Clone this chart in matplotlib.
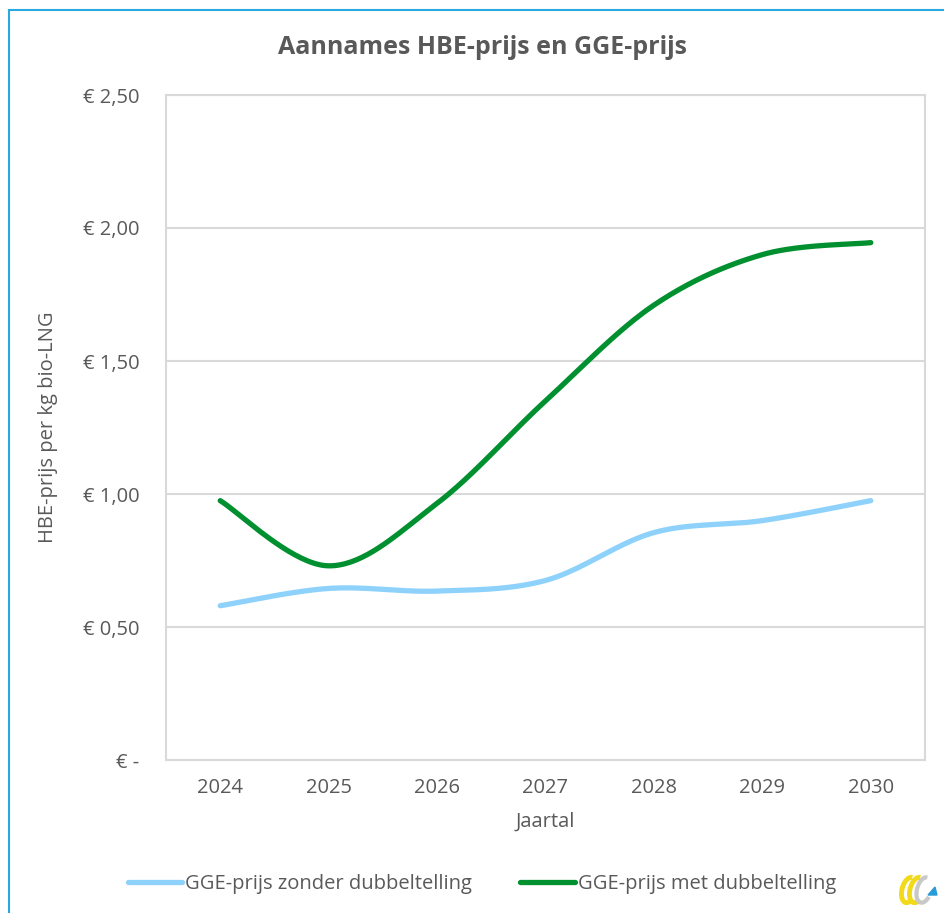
import numpy as np
import matplotlib.pyplot as plt
from matplotlib.patches import Rectangle, Arc, Polygon

years = ["2024", "2025", "2026", "2027", "2028", "2029", "2030"]
gge_zonder = [0.58, 0.645, 0.635, 0.675, 0.855, 0.90, 0.975]
gge_met = [0.975, 0.73, 0.965, 1.35, 1.71, 1.90, 1.945]
yticks = [0, 0.5, 1.0, 1.5, 2.0, 2.5]
ytick_labels = ["€ -", "€ 0,50", "€ 1,00", "€ 1,50", "€ 2,00", "€ 2,50"]

TEXT = "#595959"
FS = 14.5
plt.rcParams['font.family'] = ['Open Sans', 'DejaVu Sans']


def excel_smooth(y, n=40):
    """Bezier smoothing like Excel's 'smoothed line' option."""
    x = np.arange(len(y), dtype=float)
    pts = np.column_stack([x, np.asarray(y, dtype=float)])
    out = []
    t = np.linspace(0, 1, n)[:, None]
    for i in range(len(pts) - 1):
        p0 = pts[i]
        p3 = pts[i + 1]
        prev = pts[i - 1] if i > 0 else pts[i]
        nxt = pts[i + 2] if i + 2 < len(pts) else pts[i + 1]
        p1 = p0 + (p3 - prev) / 6
        p2 = p3 - (nxt - p0) / 6
        seg = ((1 - t) ** 3) * p0 + 3 * ((1 - t) ** 2) * t * p1 + 3 * (1 - t) * t ** 2 * p2 + t ** 3 * p3
        out.append(seg if i == 0 else seg[1:])
    seg = np.vstack(out)
    return seg[:, 0], seg[:, 1]


fig = plt.figure(figsize=(9.45, 9.13), dpi=100)
ax = fig.add_axes([166 / 945, 1 - 760 / 913, 759 / 945, 665 / 913])

xs, ys = excel_smooth(gge_zonder)
ax.plot(xs, ys, color="#8ED2FC", lw=3.8, solid_capstyle="round", label="GGE-prijs zonder dubbeltelling", zorder=3)
xs, ys = excel_smooth(gge_met)
ax.plot(xs, ys, color="#00902F", lw=3.8, solid_capstyle="round", label="GGE-prijs met dubbeltelling", zorder=4)

ax.set_xlim(-0.5, len(years) - 0.5)
ax.set_ylim(0, 2.5)
ax.set_xticks(range(len(years)))
ax.set_xticklabels(years)
ax.set_yticks(yticks)
ax.set_yticklabels(ytick_labels)
ax.tick_params(length=0, labelsize=FS, colors=TEXT)
ax.tick_params(axis="y", pad=19)
ax.tick_params(axis="x", pad=13)
ax.grid(axis="y", color="#D9D9D9", lw=1.5)
ax.set_axisbelow(True)
for s in ax.spines.values():
    s.set_color("#D9D9D9")
    s.set_linewidth(1.5)

ax.set_xlabel("Jaartal", fontsize=FS, color=TEXT, labelpad=10)
ax.set_ylabel("HBE-prijs per kg bio-LNG", fontsize=FS, color=TEXT, labelpad=18)
fig.text(482 / 945, 1 - 47 / 913, "Aannames HBE-prijs en GGE-prijs", ha="center", va="center",
         fontsize=18, fontweight="bold", color=TEXT)

fig.legend(loc="center", bbox_to_anchor=(482 / 945, 1 - 884 / 913), ncol=2, frameon=False,
           fontsize=FS, labelcolor=TEXT, handlelength=2.7, handletextpad=0.15, columnspacing=2.4)

# outer frame
fig.patches.append(Rectangle((9 / 945, -0.05), 1.1, 1 - 10 / 913 + 0.05, transform=fig.transFigure,
                             fill=False, edgecolor="#29A9E1", lw=1.5))

# small logo bottom right
lax = fig.add_axes([895 / 945, 1 - 905 / 913, 45 / 945, 35 / 913])
lax.set_xlim(0, 45)
lax.set_ylim(0, 35)
lax.axis("off")
lax.add_patch(Arc((14, 15), 14, 26, angle=-15, theta1=90, theta2=300, color="#F2DA1B", lw=3.5))
lax.add_patch(Arc((22, 15), 14, 26, angle=-15, theta1=90, theta2=300, color="#F2DA1B", lw=3.5))
lax.add_patch(Arc((29, 15), 14, 26, angle=-15, theta1=90, theta2=320, color="#C8C8C8", lw=3.0))
lax.add_patch(Polygon([[33, 10], [42, 10], [40, 18]], color="#2A9BD8"))

fig.savefig("out.png", dpi=100)
